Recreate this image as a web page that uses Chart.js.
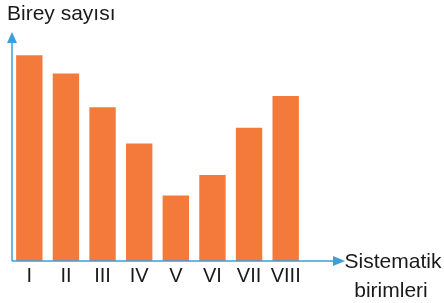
<!DOCTYPE html>
<html>
<head>
<meta charset="utf-8">
<script src="https://cdn.jsdelivr.net/npm/chart.js@4"></script>
<style>
  html, body { margin: 0; padding: 0; background: #fff; }
  #wrap { width: 444px; height: 303px; position: relative; }
</style>
</head>
<body>
<div id="wrap"><canvas id="birimChart"></canvas></div>
<script>
var categories = ["I", "II", "III", "IV", "V", "VI", "VII", "VIII"];
var bireySayisi = [9.1, 8.3, 6.8, 5.2, 2.9, 3.8, 5.9, 7.3];
var yTitle = "Birey sayısı";
var xTitle = ["Sistematik", "birimleri"];

var orange = '#F37A3B';
var blue = '#3A9FDB';
var textColor = '#1a1a1a';
var fontFamily = '"Liberation Sans", Arial, sans-serif';

// axes with arrows and the two titles
var arrowAxes = {
  id: 'arrowAxes',
  afterDraw: function(chart) {
    var c = chart.ctx;
    var area = chart.chartArea;
    var x0 = 12, y0 = area.bottom;
    c.save();
    c.strokeStyle = blue;
    c.fillStyle = blue;
    c.lineWidth = 1.5;
    c.beginPath();
    c.moveTo(x0, y0);
    c.lineTo(x0, 40);
    c.moveTo(x0, y0);
    c.lineTo(336, y0);
    c.stroke();
    c.beginPath();
    c.moveTo(x0, 32);
    c.lineTo(x0 - 5, 43);
    c.lineTo(x0 + 5, 43);
    c.closePath();
    c.fill();
    c.beginPath();
    c.moveTo(345, y0);
    c.lineTo(333, y0 - 5);
    c.lineTo(333, y0 + 5);
    c.closePath();
    c.fill();

    c.fillStyle = textColor;
    c.font = '21px ' + fontFamily;
    c.textBaseline = 'alphabetic';
    c.textAlign = 'left';
    c.fillText(yTitle, 7, 20);
    c.textAlign = 'center';
    c.fillText(xTitle[0], 393, 268);
    c.fillText(xTitle[1], 391, 297);
    c.restore();
  }
};

var ctx = document.getElementById("birimChart");
var chart = new Chart(ctx, {
  type: 'bar',
  data: {
    labels: categories,
    datasets: [
      {
        label: yTitle,
        data: bireySayisi,
        backgroundColor: orange,
        borderWidth: 0,
        barPercentage: 0.72,
        categoryPercentage: 1
      }
    ]
  },
  options: {
    responsive: true,
    maintainAspectRatio: false,
    animation: false,
    layout: {
      padding: { left: 11, right: 140, top: 35, bottom: 2 }
    },
    plugins: {
      legend: { display: false },
      title: { display: false },
      tooltip: { enabled: false }
    },
    scales: {
      x: {
        grid: { display: false, drawTicks: false },
        border: { display: false },
        ticks: {
          color: textColor,
          padding: 3,
          font: { size: 20, family: fontFamily }
        },
        afterFit: function(scale) { scale.height = 40; }
      },
      y: {
        display: false,
        min: 0,
        max: 10
      }
    }
  },
  plugins: [arrowAxes]
});
</script>
</body>
</html>
